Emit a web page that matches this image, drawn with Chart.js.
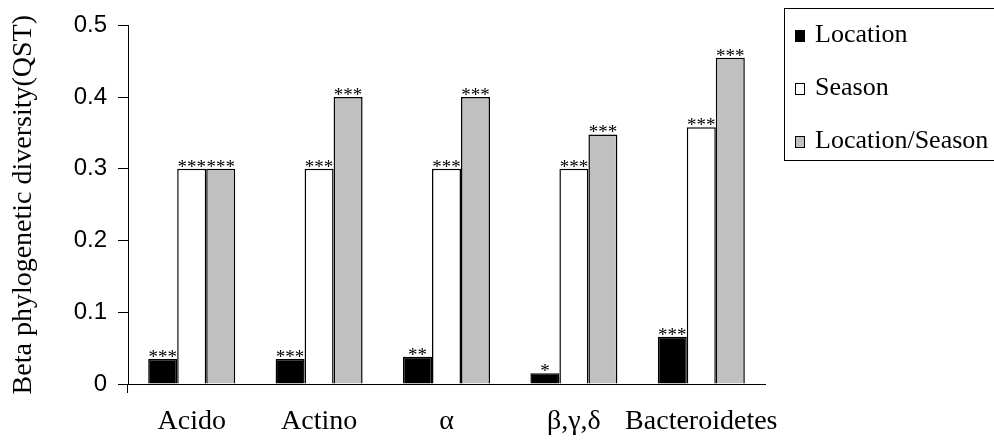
<!DOCTYPE html>
<html>
<head>
<meta charset="utf-8">
<script src="https://cdn.jsdelivr.net/npm/chart.js@4.4.0/dist/chart.umd.min.js"></script>
<style>
    html, body { margin: 0; padding: 0; background: #fff; overflow: hidden; }
    #wrap   { position: relative; width: 994px; height: 442px; }
    #legend {
        position: absolute; left: 784px; top: 8px; width: 240px; height: 151px;
        border: 1px solid #000; background: #fff;
        font-family: 'Liberation Serif', 'Times New Roman', serif; font-size: 26px; color: #000;
    }
    #legend .rows { position: relative; top: -2px; padding-left: 10px; }
    #legend .item { line-height: 53px; white-space: nowrap; }
    #legend .swatch {
        display: inline-block; width: 10px; height: 12px; box-sizing: border-box;
        border: 1px solid #000; margin-right: 10px; vertical-align: baseline;
    }
</style>
</head>
<body>
<div id="wrap">
    <canvas id="qstChart" width="994" height="442"></canvas>
    <div id="legend"></div>
</div>
<script>
// ── Data ──────────────────────────────────────────────────────────────

const categories   = ['Acido', 'Actino', 'α', 'β,γ,δ', 'Bacteroidetes'];
const seriesNames  = ['Location', 'Season', 'Location/Season'];
const seriesColors = ['#000000', '#ffffff', '#c0c0c0'];

const locationQst  = [0.035, 0.035, 0.038, 0.015, 0.066];
const seasonQst    = [0.300, 0.300, 0.300, 0.300, 0.358];
const locSeasonQst = [0.300, 0.400, 0.400, 0.348, 0.455];

const locationSig  = ['***', '***', '**', '*', '***'];
const seasonSig    = ['***', '***', '***', '***', '***'];
const locSeasonSig = ['***', '***', '***', '***', '***'];

const yTickLabels  = ['0', '0.1', '0.2', '0.3', '0.4', '0.5'];

const SERIF = "'Liberation Serif', 'Times New Roman', serif";
const SANS  = "'Liberation Sans', Arial, sans-serif";

// ── Significance stars above each bar ─────────────────────────────────

const starLabels = {
    id: 'starLabels',
    afterDatasetsDraw(chart) {
        const sigs = [locationSig, seasonSig, locSeasonSig];
        const ctx  = chart.ctx;
        ctx.save();
        ctx.font = `19px ${SERIF}`;
        ctx.fillStyle = '#000';
        ctx.textAlign = 'center';
        ctx.textBaseline = 'alphabetic';
        sigs.forEach((sig, i) => {
            chart.getDatasetMeta(i).data.forEach((bar, j) => {
                ctx.fillText(sig[j], bar.x, bar.y + 4);
            });
        });
        ctx.restore();
    },
};

// ── Chart ─────────────────────────────────────────────────────────────

const values = [locationQst, seasonQst, locSeasonQst];

new Chart(document.getElementById('qstChart'), {
    type: 'bar',
    data: {
        labels: categories,
        datasets: seriesNames.map((name, i) => ({
            label: name,
            data: values[i],
            backgroundColor: seriesColors[i],
            borderColor: '#000',
            borderWidth: 1.5,
            barPercentage: 1,
            categoryPercentage: 0.683,
        })),
    },
    options: {
        responsive: false,
        animation: false,
        devicePixelRatio: 1,
        layout: { padding: { left: 0, top: 21, right: 229, bottom: 0 } },
        plugins: {
            legend:  { display: false },
            tooltip: { enabled: false },
        },
        scales: {
            x: {
                afterFit: s => { s.height = 58; },
                border: { display: true, color: '#000', width: 1 },
                grid: {
                    drawOnChartArea: false,
                    tickLength: 9,
                    color: c => c.index === 0 ? '#000' : 'rgba(0,0,0,0)',
                },
                ticks: {
                    color: '#000',
                    font: { family: SERIF, size: 28 },
                    padding: 12,
                    maxRotation: 0,
                    minRotation: 0,
                    autoSkip: false,
                },
            },
            y: {
                min: 0,
                max: 0.5,
                afterFit: s => { s.width = 128; },
                border: { display: true, color: '#000', width: 1 },
                grid: { drawOnChartArea: false, tickLength: 10, color: '#000' },
                ticks: {
                    stepSize: 0.1,
                    color: '#000',
                    font: { family: SANS, size: 24 },
                    padding: 11,
                    callback: (v, i) => yTickLabels[i],
                },
                title: {
                    display: true,
                    text: 'Beta phylogenetic diversity(QST)',
                    color: '#000',
                    font: { family: SERIF, size: 28 },
                    padding: { top: 7, bottom: 0 },
                },
            },
        },
    },
    plugins: [starLabels],
});

// ── Legend ────────────────────────────────────────────────────────────

document.getElementById('legend').innerHTML = `<div class="rows">${seriesNames.map((name, i) => `
    <div class="item"><span class="swatch" style="background:${seriesColors[i]}"></span>${name}</div>
`).join('')}</div>`;
</script>
</body>
</html>
